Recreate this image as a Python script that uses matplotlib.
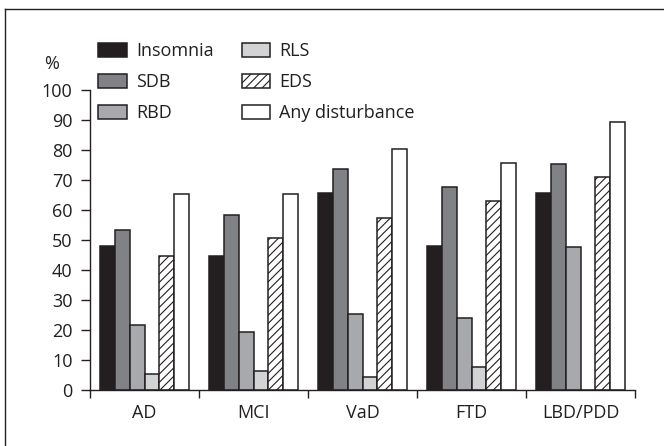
import matplotlib.pyplot as plt
import numpy as np
from matplotlib.lines import Line2D

plt.rcParams['font.family'] = ['Open Sans', 'DejaVu Sans']
plt.rcParams['hatch.linewidth'] = 0.8
plt.rcParams['hatch.color'] = '#231f20'

# data (% of patients)
groups = ['AD', 'MCI', 'VaD', 'FTD', 'LBD/PDD']
series = ['Insomnia', 'SDB', 'RBD', 'RLS', 'EDS', 'Any disturbance']
insomnia = [48, 44.7, 65.7, 48, 65.7]
sdb = [53.3, 58.2, 73.7, 67.6, 75.4]
rbd = [21.7, 19.2, 25.4, 24.1, 47.7]
rls = [5.5, 6.4, 4.3, 7.6, 0]
eds = [44.7, 50.5, 57.2, 63, 71]
any_dist = [65.3, 65.2, 80.2, 75.6, 89.3]

values = [insomnia, sdb, rbd, rls, eds, any_dist]
colors = ['#231f20', '#808285', '#a7a9ac', '#d1d3d4', 'white', 'white']
hatches = [None, None, None, None, '////', None]
ink = '#231f20'
fs = 13

fig = plt.figure(figsize=(6.64, 4.46), dpi=100)
ax = fig.add_axes([90 / 664, 56 / 446, 545 / 664, 300 / 446])

x = np.arange(len(groups))
width = 0.135
for i, (name, vals) in enumerate(zip(series, values)):
    ax.bar(x + (i - 2.5) * width, vals, width, color=colors[i], hatch=hatches[i],
           edgecolor=ink, linewidth=1.1, label=name)

ax.set_xlim(-0.5, len(groups) - 0.5)
ax.set_ylim(0, 100)
ax.set_yticks(np.arange(0, 101, 10))
ax.set_xticks(np.arange(-0.5, len(groups), 1))
ax.set_xticklabels([])
ax.set_xticks(x, minor=True)
ax.set_xticklabels(groups, minor=True)
ax.tick_params(axis='x', which='minor', length=0, pad=10, labelsize=fs, colors=ink)
ax.tick_params(axis='x', which='major', length=6, width=1, color=ink)
ax.tick_params(axis='y', length=6.5, width=1, color=ink, labelsize=fs, labelcolor=ink, pad=6)
for s in ['top', 'right']:
    ax.spines[s].set_visible(False)
for s in ['left', 'bottom']:
    ax.spines[s].set_color(ink)
    ax.spines[s].set_linewidth(1)

fig.text(52 / 664, 1 - 64 / 446, '%', fontsize=fs, color=ink, ha='center', va='center')

leg = fig.legend(loc='upper left', bbox_to_anchor=(98 / 664, 1 - 42 / 446), ncol=2,
                 frameon=False, fontsize=fs, handlelength=1.6, handleheight=0.83,
                 handletextpad=0.5, labelspacing=0.72, columnspacing=1.55,
                 borderpad=0, borderaxespad=0)
for t in leg.get_texts():
    t.set_color(ink)

# frame around the figure
fig.add_artist(Line2D([5 / 664, 5 / 664], [0, 1 - 9 / 446], transform=fig.transFigure,
                      color=ink, linewidth=1))
fig.add_artist(Line2D([5 / 664, 1], [1 - 9 / 446, 1 - 9 / 446], transform=fig.transFigure,
                      color=ink, linewidth=1))

fig.savefig('out.png', dpi=100)
